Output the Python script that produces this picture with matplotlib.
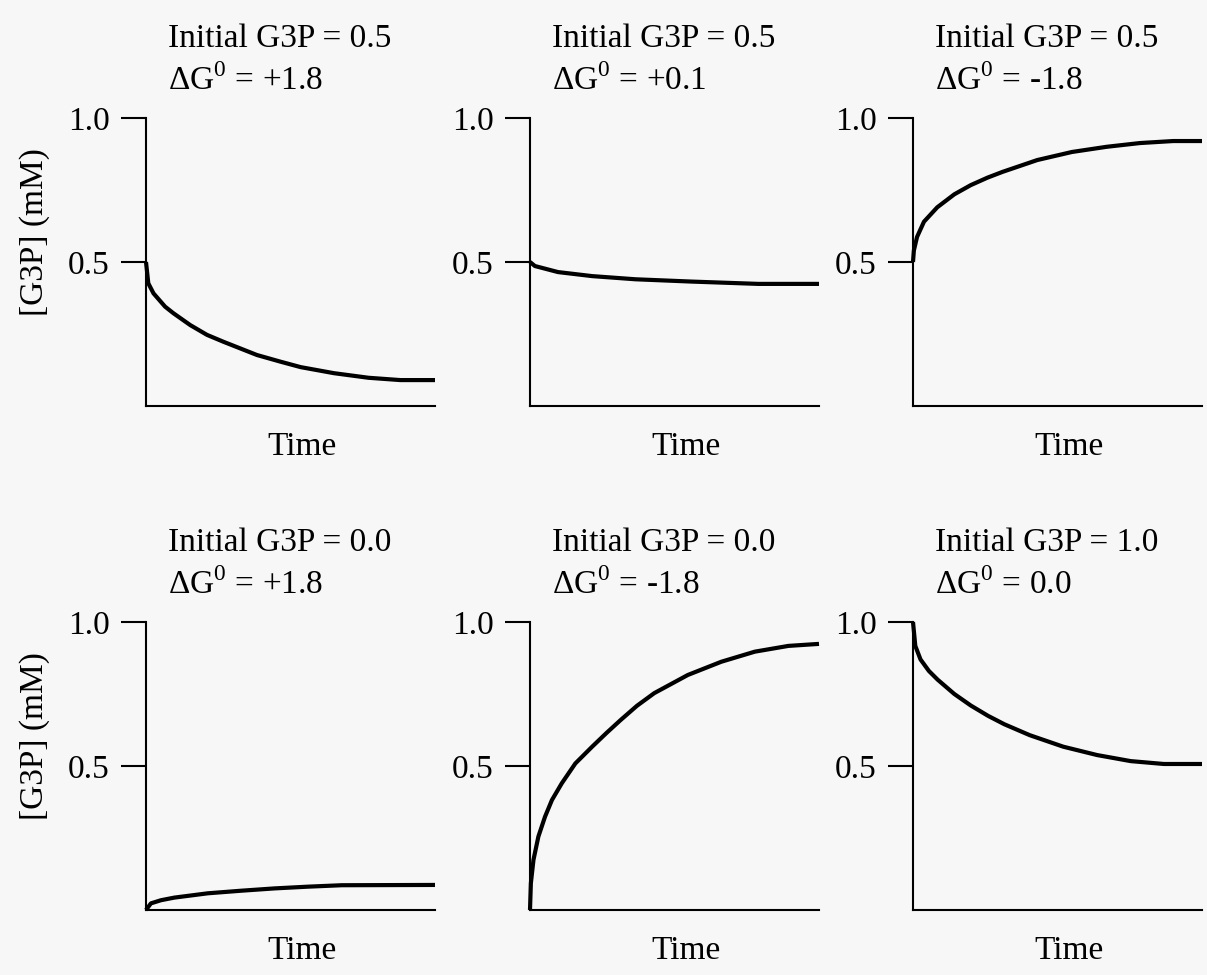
import matplotlib
matplotlib.use("Agg")
import matplotlib.pyplot as plt

plt.rcParams['font.family'] = ['Liberation Serif', 'DejaVu Serif']
plt.rcParams['mathtext.fontset'] = 'custom'
plt.rcParams['mathtext.rm'] = 'Liberation Serif'

# time scaled 0..1
init_labels = ['0.5', '0.5', '0.5', '0.0', '0.0', '1.0']
dg_labels = ['+1.8', '+0.1', '-1.8', '+1.8', '-1.8', '0.0']

t1 = [0, 0.008, 0.026, 0.066, 0.095, 0.153, 0.211, 0.268, 0.326, 0.384, 0.465,
      0.535, 0.65, 0.77, 0.88, 1.0]
c1 = [0.5, 0.426, 0.391, 0.345, 0.322, 0.281, 0.247, 0.223, 0.2, 0.177, 0.154,
      0.135, 0.114, 0.098, 0.09, 0.09]

t2 = [0, 0.017, 0.097, 0.215, 0.365, 0.56, 0.79, 1.0]
c2 = [0.5, 0.486, 0.465, 0.451, 0.44, 0.432, 0.424, 0.424]

t3 = [0, 0.003, 0.014, 0.038, 0.084, 0.143, 0.2, 0.258, 0.31, 0.43, 0.55,
      0.67, 0.785, 0.9, 1.0]
c3 = [0.5, 0.54, 0.587, 0.64, 0.69, 0.735, 0.767, 0.793, 0.813, 0.854, 0.882,
      0.9, 0.913, 0.92, 0.92]

t4 = [0, 0.017, 0.052, 0.098, 0.214, 0.33, 0.445, 0.56, 0.677, 1.0]
c4 = [0, 0.023, 0.034, 0.043, 0.058, 0.067, 0.075, 0.081, 0.086, 0.087]

t5 = [0, 0.003, 0.012, 0.029, 0.052, 0.076, 0.11, 0.157, 0.215, 0.265, 0.314,
      0.37, 0.43, 0.546, 0.662, 0.778, 0.894, 1.0]
c5 = [0, 0.093, 0.174, 0.255, 0.324, 0.382, 0.44, 0.509, 0.567, 0.615, 0.66,
      0.709, 0.753, 0.816, 0.862, 0.897, 0.917, 0.924]

t6 = [0, 0.008, 0.026, 0.055, 0.085, 0.143, 0.2, 0.26, 0.316, 0.404, 0.52,
      0.637, 0.753, 0.868, 1.0]
c6 = [1.0, 0.917, 0.87, 0.83, 0.8, 0.75, 0.71, 0.674, 0.645, 0.607, 0.567,
      0.538, 0.517, 0.507, 0.507]

times = [t1, t2, t3, t4, t5, t6]
concs = [c1, c2, c3, c4, c5, c6]

bg = '#f7f7f7'
fig = plt.figure(figsize=(12.07, 9.75), dpi=100, facecolor=bg)

W, H = 1207, 975
lefts = [146, 530, 913]
bottoms = [406, 910]
aw, ah = 289, 288
fs = 24

for i in range(6):
    r, c = divmod(i, 3)
    ax = fig.add_axes([lefts[c] / W, 1 - bottoms[r] / H, aw / W, ah / H])
    ax.set_facecolor(bg)
    ax.plot(times[i], concs[i], color='black', lw=3.0, clip_on=False,
            solid_capstyle='butt', solid_joinstyle='round')
    ax.set_xlim(0, 1)
    ax.set_ylim(0, 1)
    for s in ['top', 'right']:
        ax.spines[s].set_visible(False)
    for s in ['left', 'bottom']:
        ax.spines[s].set_linewidth(1.5)
    ax.set_xticks([])
    ax.set_yticks([0.5, 1.0])
    ax.set_yticklabels(['0.5', '1.0'])
    ax.tick_params(axis='y', direction='out', length=18, width=1.5,
                   pad=8, labelsize=fs)
    ax.text(0.076, 1.247, 'Initial G3P = ' + init_labels[i],
            transform=ax.transAxes, fontsize=fs, va='baseline', ha='left')
    ax.text(0.076, 1.097, 'ΔG$^{0}$ = ' + dg_labels[i],
            transform=ax.transAxes, fontsize=fs, va='baseline', ha='left')
    ax.text(0.54, -0.17, 'Time', transform=ax.transAxes, fontsize=fs,
            va='baseline', ha='center')
    if c == 0:
        ax.text(-0.384, 0.604, '[G3P] (mM)', transform=ax.transAxes,
                fontsize=fs, rotation=90, va='center', ha='center')

fig.savefig('out.png', dpi=100, facecolor=bg)
